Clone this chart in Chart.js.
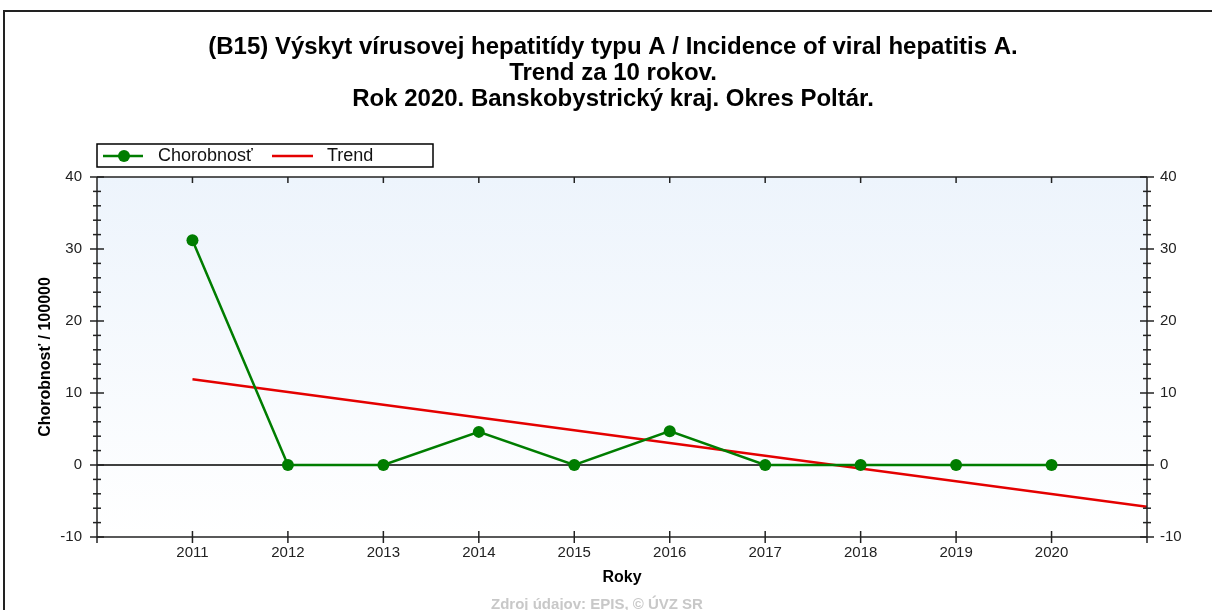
<!DOCTYPE html>
<html>
<head>
<meta charset="utf-8">
<title>B15 Poltár</title>
<script src="https://cdn.jsdelivr.net/npm/chart.js@4.4.1/dist/chart.umd.min.js"></script>
<style>
  body { margin: 0; overflow: hidden; background: #fff; }
  #obal { position: relative; width: 1212px; height: 620px; }
  #ram { position: absolute; left: 3px; top: 10px; width: 1300px; height: 700px;
         border-top: 2px solid #222; border-left: 2px solid #222; pointer-events: none; }
</style>
</head>
<body>
<div id="obal">
  <canvas id="grafPoltar" width="1212" height="620"></canvas>
  <div id="ram"></div>
</div>
<script>
// udaje odcitane z grafu
const roky = [2011, 2012, 2013, 2014, 2015, 2016, 2017, 2018, 2019, 2020]
const chorobnost = [31.2, 0, 0, 4.6, 0, 4.7, 0, 0, 0, 0]
const trendRoky = [2011, 2021]
const trendHodnoty = [11.9, -5.8]
const osY = [-10, 40]

const pismo = '"Liberation Sans", Arial, sans-serif'
const zelena = 'rgb(0, 125, 0)'
const cervena = 'rgb(228, 0, 0)'

function ciara(ctx, x1, y1, x2, y2) {
  ctx.beginPath()
  ctx.moveTo(x1, y1)
  ctx.lineTo(x2, y2)
  ctx.stroke()
}

// pozadie, nulova ciara, ramik a ciarky na osiach
const ramik = {
  id: 'ramik',
  beforeDatasetsDraw(chart) {
    const { ctx, chartArea: a, scales: { y } } = chart
    ctx.save()
    const g = ctx.createLinearGradient(0, a.top, 0, a.bottom)
    g.addColorStop(0, '#edf4fc')
    g.addColorStop(1, '#ffffff')
    ctx.fillStyle = g
    ctx.fillRect(a.left, a.top, a.right - a.left, a.bottom - a.top)
    ctx.strokeStyle = '#000'
    ctx.lineWidth = 1.5
    const y0 = y.getPixelForValue(0)
    ciara(ctx, a.left, y0, a.right, y0)
    ctx.restore()
  },
  afterDraw(chart) {
    const { ctx, chartArea: a, scales: { x, y } } = chart
    ctx.save()
    ctx.strokeStyle = '#222'
    ctx.lineWidth = 1.5
    ciara(ctx, a.left, a.top, a.right, a.top)
    ciara(ctx, a.left, a.bottom, a.right, a.bottom)
    ciara(ctx, a.left, a.top, a.left, a.bottom + 6)
    ciara(ctx, a.right, a.top, a.right, a.bottom + 6)
    for (let v = osY[0]; v <= osY[1]; v += 2) {
      const py = y.getPixelForValue(v)
      const d = v % 10 === 0 ? 7 : 4
      ciara(ctx, a.left - d, py, a.left + d, py)
      ciara(ctx, a.right - d, py, a.right + d, py)
    }
    roky.forEach(r => {
      const px = x.getPixelForValue(r)
      ciara(ctx, px, a.bottom - 6, px, a.bottom + 6)
      ciara(ctx, px, a.top, px, a.top + 6)
    })
    ctx.restore()
  }
}

// legenda v ramceku nad grafom
const legenda = {
  id: 'legenda',
  afterDraw(chart) {
    const { ctx, chartArea: a } = chart
    const lx = a.left
    const ly = a.top - 33
    ctx.save()
    ctx.fillStyle = '#fff'
    ctx.fillRect(lx, ly, 336, 23)
    ctx.strokeStyle = '#000'
    ctx.lineWidth = 1.5
    ctx.strokeRect(lx, ly, 336, 23)
    const sy = ly + 12
    ctx.lineWidth = 2.5
    ctx.strokeStyle = zelena
    ciara(ctx, lx + 6, sy, lx + 46, sy)
    ctx.fillStyle = zelena
    ctx.beginPath()
    ctx.arc(lx + 27, sy, 6, 0, Math.PI * 2)
    ctx.fill()
    ctx.strokeStyle = cervena
    ciara(ctx, lx + 175, sy, lx + 216, sy)
    ctx.fillStyle = '#111'
    ctx.font = '18px ' + pismo
    ctx.textBaseline = 'middle'
    ctx.fillText('Chorobnosť', lx + 61, sy)
    ctx.fillText('Trend', lx + 230, sy)
    ctx.restore()
  }
}

// zdroj udajov pod grafom
const zdroj = {
  id: 'zdroj',
  afterDraw(chart) {
    const { ctx, chartArea: a } = chart
    ctx.save()
    ctx.fillStyle = '#c8c8c8'
    ctx.font = 'bold 15px ' + pismo
    ctx.textAlign = 'center'
    ctx.textBaseline = 'middle'
    ctx.fillText('Zdroj údajov: EPIS, © ÚVZ SR', (a.left + a.right) / 2 - 25, a.bottom + 68)
    ctx.restore()
  }
}

const grafPoltar = new Chart(document.getElementById('grafPoltar'), {
  type: 'line',
  data: {
    datasets: [{
      label: 'Chorobnosť',
      data: roky.map((r, i) => ({ x: r, y: chorobnost[i] })),
      borderColor: zelena,
      backgroundColor: zelena,
      borderWidth: 2.5,
      pointRadius: 6,
      pointBorderWidth: 0,
      pointBackgroundColor: zelena,
      tension: 0,
      order: 1
    }, {
      label: 'Trend',
      data: trendRoky.map((r, i) => ({ x: r, y: trendHodnoty[i] })),
      borderColor: cervena,
      borderWidth: 2.5,
      pointRadius: 0,
      tension: 0,
      order: 2
    }]
  },
  options: {
    responsive: false,
    animation: false,
    layout: { padding: { left: 14, right: 0, top: 0, bottom: 23 } },
    plugins: {
      legend: { display: false },
      tooltip: { enabled: false },
      title: {
        display: true,
        text: [
          '(B15) Výskyt vírusovej hepatitídy typu A / Incidence of viral hepatitis A.',
          'Trend za 10 rokov.',
          'Rok 2020. Banskobystrický kraj. Okres Poltár.'
        ],
        color: '#000',
        font: { family: pismo, size: 24, weight: 'bold', lineHeight: 1.0833 },
        padding: { top: 34, bottom: 65 }
      }
    },
    scales: {
      x: {
        type: 'linear',
        min: 2010,
        max: 2021,
        grid: { display: false, drawTicks: false },
        border: { display: false },
        ticks: {
          stepSize: 1,
          autoSkip: false,
          padding: 7,
          color: '#222',
          font: { family: pismo, size: 15 },
          callback: v => (v >= roky[0] && v <= roky[roky.length - 1]) ? String(v) : ''
        },
        title: {
          display: true,
          text: 'Roky',
          color: '#000',
          font: { family: pismo, size: 16, weight: 'bold' },
          padding: { top: 0, bottom: 10 }
        },
        afterFit: s => { s.height = 60 }
      },
      y: {
        position: 'left',
        min: osY[0],
        max: osY[1],
        grid: { display: false, drawTicks: false },
        border: { display: false },
        ticks: { stepSize: 10, padding: 15, color: '#222', font: { family: pismo, size: 15 } },
        title: {
          display: true,
          text: 'Chorobnosť / 100000',
          color: '#000',
          font: { family: pismo, size: 16, weight: 'bold' },
          padding: { top: 22, bottom: 0 }
        },
        afterFit: s => { s.width = 83 }
      },
      y2: {
        position: 'right',
        min: osY[0],
        max: osY[1],
        grid: { display: false, drawTicks: false },
        border: { display: false },
        ticks: { stepSize: 10, padding: 13, color: '#222', font: { family: pismo, size: 15 } },
        afterFit: s => { s.width = 65 }
      }
    }
  },
  plugins: [ramik, legenda, zdroj]
})
</script>
</body>
</html>
